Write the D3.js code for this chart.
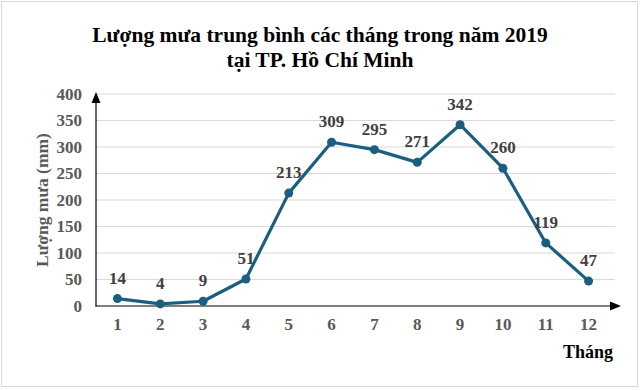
<!DOCTYPE html>
<html><head><meta charset="utf-8">
<script src="https://cdn.jsdelivr.net/npm/d3@7"></script>
<style>body{margin:0;background:#fff}</style>
</head><body>
<svg id="c" width="640" height="390"></svg>
<script>
const months = ["1","2","3","4","5","6","7","8","9","10","11","12"];
const rainfall = [14,4,9,51,213,309,295,271,342,260,119,47];
const yTicks = [0,50,100,150,200,250,300,350,400];
const titleLines = ["Lượng mưa trung bình các tháng trong năm 2019","tại TP. Hồ Chí Minh"];

const svg = d3.select("#c");
const font = "'Liberation Serif','Times New Roman',serif";
svg.append("rect").attr("x",1.5).attr("y",1.5).attr("width",636).attr("height",385)
  .attr("fill","#fff").attr("stroke","#d9d9d9");

const x = d3.scaleBand().domain(months).range([96,610]);
const y = d3.scaleLinear().domain([0,400]).range([306,94]);

// grid
svg.append("g").selectAll("line").data(yTicks.slice(1)).join("line")
  .attr("x1",96).attr("x2",615).attr("y1",d=>y(d)).attr("y2",d=>y(d))
  .attr("stroke","#d9d9d9").attr("stroke-width",1);

// title
svg.append("text").attr("font-family",font).attr("font-weight","bold").attr("font-size",21.5)
  .attr("text-anchor","middle").attr("fill","#000")
  .selectAll("tspan").data(titleLines).join("tspan")
  .attr("x",320).attr("y",(d,i)=>42+i*25).text(d=>d);

// axes
const yAxis = d3.axisLeft(y).tickValues(yTicks).tickSize(0).tickPadding(14);
const gy = svg.append("g").attr("transform","translate(96,0)").call(yAxis);
gy.select(".domain").remove();
gy.selectAll("text").attr("font-family",font).attr("font-weight","bold").attr("font-size",17).attr("fill","#595959");

const xAxis = d3.axisBottom(x).tickSize(0).tickPadding(12);
const gx = svg.append("g").attr("transform","translate(0,306)").call(xAxis);
gx.select(".domain").remove();
gx.selectAll("text").attr("font-family",font).attr("font-weight","bold").attr("font-size",17).attr("fill","#595959");

// axis lines with arrows
svg.append("line").attr("x1",96).attr("x2",96).attr("y1",306.5).attr("y2",100).attr("stroke","#000").attr("stroke-width",1.2);
svg.append("path").attr("d","M96,92 L91.5,103 L100.5,103 Z").attr("fill","#000");
svg.append("line").attr("x1",95.5).attr("x2",612).attr("y1",306).attr("y2",306).attr("stroke","#000").attr("stroke-width",1.2);
svg.append("path").attr("d","M621,306 L610,301.5 L610,310.5 Z").attr("fill","#000");

// axis titles
svg.append("text").attr("transform","translate(48,200) rotate(-90)").attr("text-anchor","middle")
  .attr("font-family",font).attr("font-weight","bold").attr("font-size",17.5).attr("fill","#595959")
  .text("Lượng mưa (mm)");
svg.append("text").attr("x",613).attr("y",358).attr("text-anchor","end")
  .attr("font-family",font).attr("font-weight","bold").attr("font-size",18).attr("fill","#000")
  .text("Tháng");

// line
const cx = d=>x(d)+x.bandwidth()/2;
const line = d3.line().x((d,i)=>cx(months[i])).y(d=>y(d));
svg.append("path").datum(rainfall).attr("d",line).attr("fill","none")
  .attr("stroke","#1b5e80").attr("stroke-width",3.2).attr("stroke-linejoin","round");
svg.append("g").selectAll("circle").data(rainfall).join("circle")
  .attr("cx",(d,i)=>cx(months[i])).attr("cy",d=>y(d)).attr("r",4.5).attr("fill","#1b5e80");
svg.append("g").selectAll("text").data(rainfall).join("text")
  .attr("x",(d,i)=>cx(months[i])).attr("y",d=>y(d)-15).attr("text-anchor","middle")
  .attr("font-family",font).attr("font-weight","bold").attr("font-size",17).attr("fill","#404040")
  .text(d=>d);
</script>
</body></html>
